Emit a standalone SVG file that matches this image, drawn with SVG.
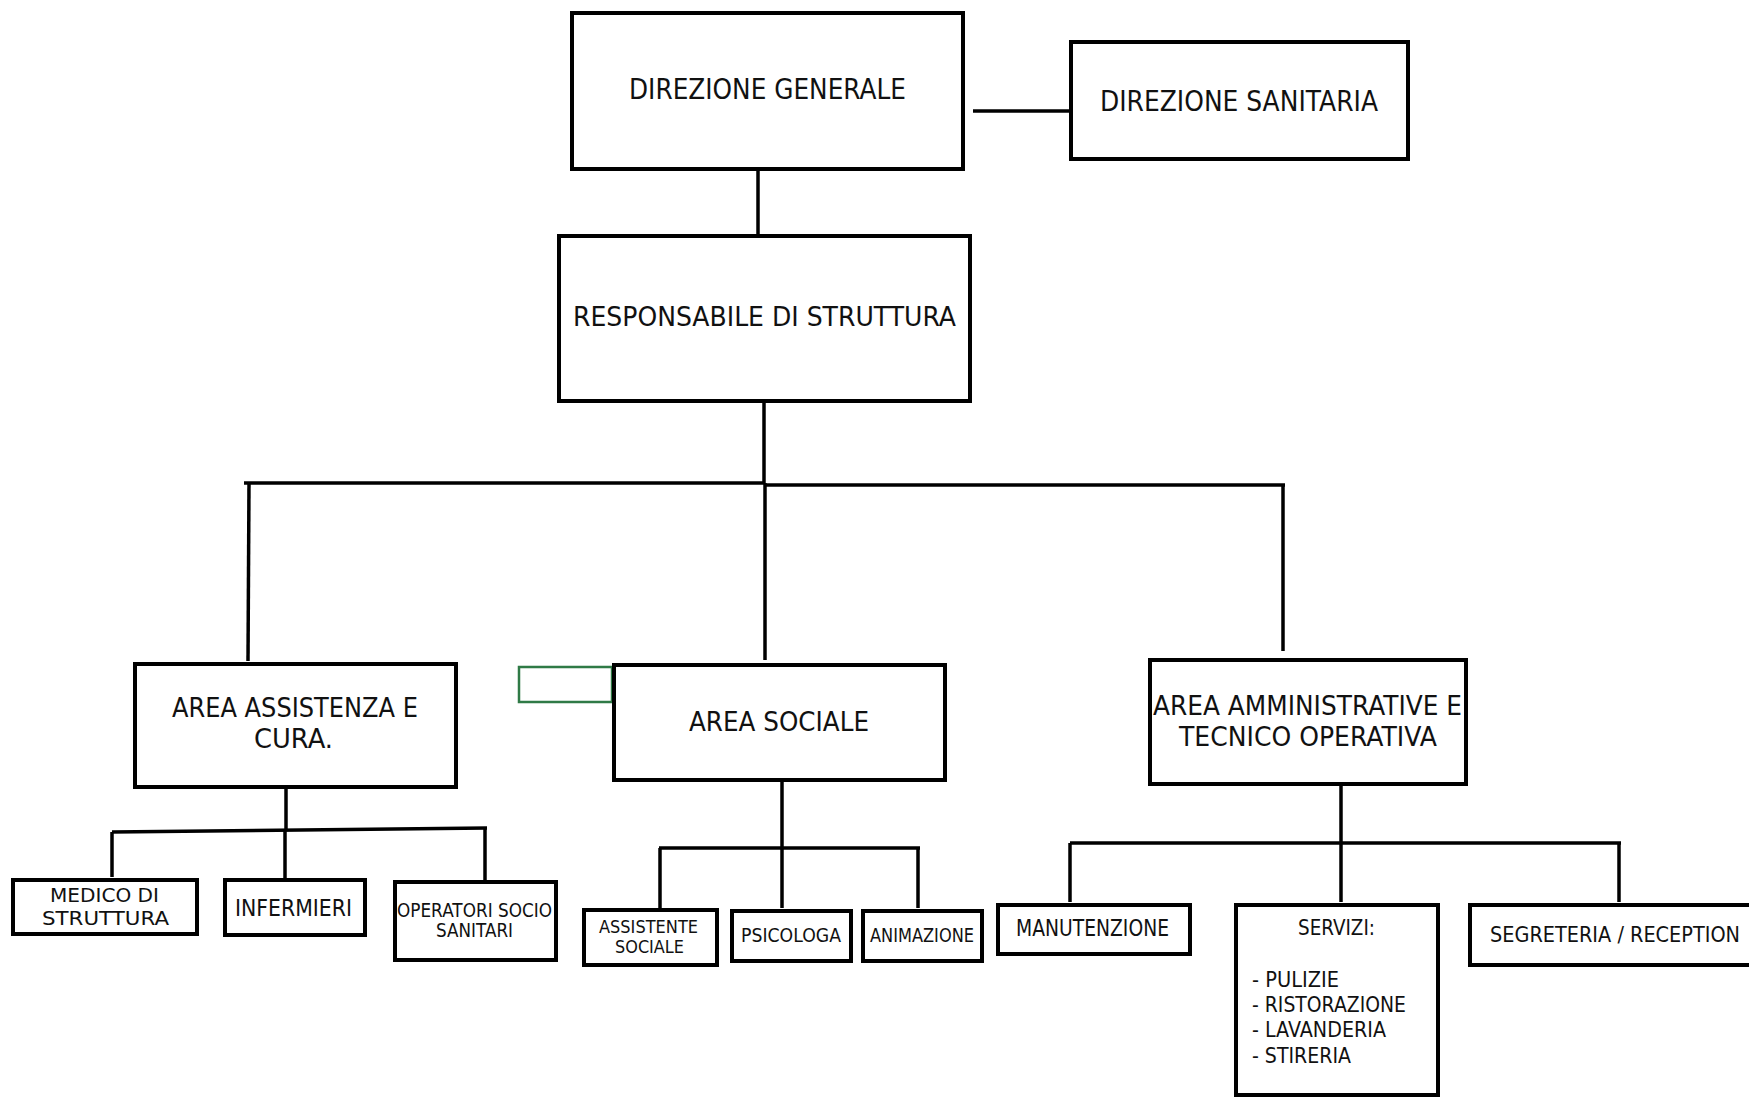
<svg xmlns="http://www.w3.org/2000/svg" width="1749" height="1098" viewBox="0 0 1749 1098">
<style>
.box{fill:#fff;stroke:#000;stroke-width:4}
.sm{fill:#fff;stroke:#000;stroke-width:4}
.ln{fill:none;stroke:#000;stroke-width:3.5}
text{font-family:"DejaVu Sans","Liberation Sans",sans-serif;fill:#111}
</style>
<rect width="1749" height="1098" fill="#fff"/>
<g id="connectors">
<path class="ln" d="M973 111 H1069"/>
<path class="ln" d="M758 171 V234"/>
<path class="ln" d="M764 403 V483"/>
<path class="ln" d="M244 483 H765"/>
<path class="ln" d="M765 485 H1285"/>
<path class="ln" d="M1283 485 V651"/>
<path class="ln" d="M249 483 L248 661"/>
<path class="ln" d="M765 483 V660"/>
<path class="ln" d="M286 789 V830"/>
<path class="ln" d="M112 832 L487 828"/>
<path class="ln" d="M112 832 V877"/>
<path class="ln" d="M285 830 V878"/>
<path class="ln" d="M485 828 V882"/>
<path class="ln" d="M782 782 V908"/>
<path class="ln" d="M659 848 H920"/>
<path class="ln" d="M660 848 V908"/>
<path class="ln" d="M918 848 V908"/>
<path class="ln" d="M1341 786 V902"/>
<path class="ln" d="M1070 843 H1621"/>
<path class="ln" d="M1070 843 V902"/>
<path class="ln" d="M1619 843 V902"/>
</g>
<g id="green-box"><rect x="519" y="667" width="93" height="35" fill="#fff" stroke="#2f7a46" stroke-width="2.5"/></g>
<g id="direzione-generale"><rect class="box" x="572" y="13" width="391" height="156"/><text x="629" y="99" font-size="28" textLength="277" lengthAdjust="spacingAndGlyphs">DIREZIONE GENERALE</text></g>
<g id="direzione-sanitaria"><rect class="box" x="1071" y="42" width="337" height="117"/><text x="1100" y="111" font-size="28" textLength="278" lengthAdjust="spacingAndGlyphs">DIREZIONE SANITARIA</text></g>
<g id="responsabile"><rect class="box" x="559" y="236" width="411" height="165"/><text x="573" y="326" font-size="27" textLength="383" lengthAdjust="spacingAndGlyphs">RESPONSABILE DI STRUTTURA</text></g>
<g id="area-assistenza"><rect class="box" x="135" y="664" width="321" height="123"/><text x="172" y="717" font-size="26" textLength="246" lengthAdjust="spacingAndGlyphs">AREA ASSISTENZA E</text><text x="254" y="748" font-size="26" textLength="79" lengthAdjust="spacingAndGlyphs">CURA.</text></g>
<g id="area-sociale"><rect class="box" x="614" y="665" width="331" height="115"/><text x="689" y="731" font-size="27" textLength="180" lengthAdjust="spacingAndGlyphs">AREA SOCIALE</text></g>
<g id="area-amministrative"><rect class="box" x="1150" y="660" width="316" height="124"/><text x="1153" y="715" font-size="27" textLength="309" lengthAdjust="spacingAndGlyphs">AREA AMMINISTRATIVE E</text><text x="1179" y="746" font-size="27" textLength="258" lengthAdjust="spacingAndGlyphs">TECNICO OPERATIVA</text></g>
<g id="medico"><rect class="sm" x="13" y="880" width="184" height="54"/><text x="50" y="902" font-size="19" textLength="109" lengthAdjust="spacingAndGlyphs">MEDICO DI</text><text x="42" y="925" font-size="19" textLength="127" lengthAdjust="spacingAndGlyphs">STRUTTURA</text></g>
<g id="infermieri"><rect class="sm" x="225" y="880" width="140" height="55"/><text x="235" y="916" font-size="23" textLength="117" lengthAdjust="spacingAndGlyphs">INFERMIERI</text></g>
<g id="operatori"><rect class="sm" x="395" y="882" width="161" height="78"/><text x="397" y="917" font-size="19" textLength="155" lengthAdjust="spacingAndGlyphs">OPERATORI SOCIO</text><text x="436" y="937" font-size="19" textLength="77" lengthAdjust="spacingAndGlyphs">SANITARI</text></g>
<g id="assistente"><rect class="sm" x="584" y="910" width="133" height="55"/><text x="599" y="933" font-size="18" textLength="99" lengthAdjust="spacingAndGlyphs">ASSISTENTE</text><text x="615" y="953" font-size="18" textLength="69" lengthAdjust="spacingAndGlyphs">SOCIALE</text></g>
<g id="psicologa"><rect class="sm" x="732" y="911" width="119" height="50"/><text x="741" y="942" font-size="19" textLength="100" lengthAdjust="spacingAndGlyphs">PSICOLOGA</text></g>
<g id="animazione"><rect class="sm" x="863" y="911" width="119" height="50"/><text x="870" y="942" font-size="19" textLength="104" lengthAdjust="spacingAndGlyphs">ANIMAZIONE</text></g>
<g id="manutenzione"><rect class="sm" x="998" y="905" width="192" height="49"/><text x="1016" y="936" font-size="23" textLength="153" lengthAdjust="spacingAndGlyphs">MANUTENZIONE</text></g>
<g id="servizi"><rect class="sm" x="1236" y="905" width="202" height="190"/><text x="1298" y="935" font-size="22" textLength="77" lengthAdjust="spacingAndGlyphs">SERVIZI:</text><text x="1252" y="987" font-size="21" textLength="87" lengthAdjust="spacingAndGlyphs">- PULIZIE</text><text x="1252" y="1012" font-size="21" textLength="154" lengthAdjust="spacingAndGlyphs">- RISTORAZIONE</text><text x="1252" y="1037" font-size="21" textLength="134" lengthAdjust="spacingAndGlyphs">- LAVANDERIA</text><text x="1252" y="1063" font-size="21" textLength="99" lengthAdjust="spacingAndGlyphs">- STIRERIA</text></g>
<g id="segreteria"><rect class="sm" x="1470" y="905" width="290" height="60"/><text x="1490" y="942" font-size="22" textLength="250" lengthAdjust="spacingAndGlyphs">SEGRETERIA / RECEPTION</text></g>
</svg>
